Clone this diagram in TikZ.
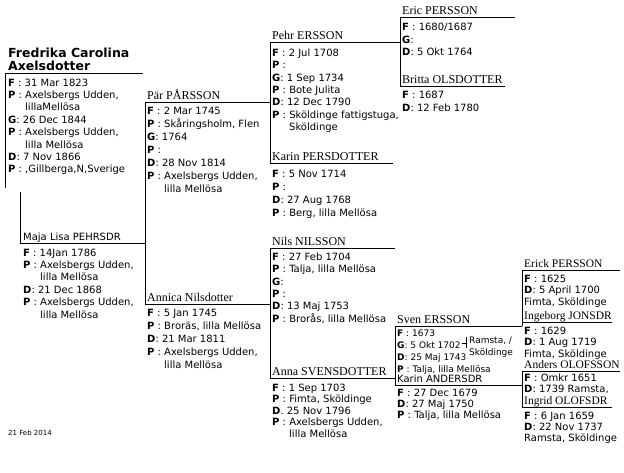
\documentclass[tikz,border=0pt]{standalone}
\usepackage{fontspec}
\setsansfont{DejaVu Sans}
\newfontfamily\namefont{Liberation Serif}
\usetikzlibrary{positioning}
\newcommand{\fld}[1]{\textbf{#1}}
\newcommand{\cont}{\hspace*{17pt}}

\begin{document}
\begin{tikzpicture}[
  x=1pt, y=-1pt,
  font=\sffamily\fontsize{10}{12.4}\selectfont,
  rule/.style={draw=black, line width=.9pt},
  who/.style={font=\namefont\fontsize{12}{14}\selectfont, anchor=base west, inner sep=0pt},
  whosmall/.style={who, font=\namefont\fontsize{11.5}{14}\selectfont},
  whosans/.style={anchor=base west, inner sep=0pt},
  info/.style={anchor=north west, inner sep=0pt, align=left, yshift=7.5pt},
  wide/.style={font=\sffamily\fontsize{10}{13}\selectfont},
  tight/.style={font=\sffamily\fontsize{10}{11.5}\selectfont},
  tighter/.style={font=\sffamily\fontsize{10}{11}\selectfont},
  small/.style={font=\sffamily\fontsize{9}{11.8}\selectfont, yshift=-.6pt}
]
  \fill[white] (0,0) rectangle (624,472);
  \useasboundingbox (0,0) rectangle (624,472);

  % where each name rule starts
  \coordinate (fredL) at (5,73);
  \coordinate (majaL) at (20,243);
  \coordinate (parL) at (145,102);
  \coordinate (annicaL) at (145,304);
  \coordinate (pehrL) at (270,42);
  \coordinate (karinpL) at (270,163);
  \coordinate (nilsL) at (270,248);
  \coordinate (annaL) at (270,378);
  \coordinate (ericL) at (400,17);
  \coordinate (brittaL) at (400,86);
  \coordinate (svenL) at (395,326);
  \coordinate (karinaL) at (395,385);
  \coordinate (erickL) at (522,270);
  \coordinate (ingebL) at (522,322);
  \coordinate (andersL) at (522,371);
  \coordinate (ingridL) at (522,407);

  % rules under the names
  \draw[rule] (fredL) -- ++(138,0);
  \draw[rule] (majaL) -- (majaL -| parL);
  \draw[rule] (parL) -- (parL -| pehrL);
  \draw[rule] (annicaL) -- (annicaL -| nilsL);
  \draw[rule] (pehrL) -- (pehrL -| ericL);
  \draw[rule] (karinpL) -- ++(123,0);
  \draw[rule] (nilsL) -- ++(125,0);
  \draw[rule] (annaL) -- (annaL -| svenL);
  \draw[rule] (ericL) -- ++(115,0);
  \draw[rule] (brittaL) -- ++(105,0);
  \draw[rule] (svenL) -- (svenL -| erickL);
  \draw[rule] (karinaL) -- (karinaL -| andersL);
  \draw[rule] (erickL) -- ++(98,0);
  \draw[rule] (ingebL) -- ++(90,0);
  \draw[rule] (andersL) -- ++(98,0);
  \draw[rule] (ingridL) -- ++(90,0);

  % couples
  \draw[rule] (fredL) -- ++(0,115);
  \draw[rule] (majaL) -- ++(0,-51);
  \draw[rule] (parL) -- (annicaL);
  \draw[rule] (pehrL) -- (karinpL);
  \draw[rule] (nilsL) -- (annaL);
  \draw[rule] (ericL) -- (brittaL);
  \draw[rule] (svenL) -- (karinaL);
  \draw[rule] (erickL) -- (svenL -| erickL);
  \draw[rule] (andersL) -- (ingridL);

  % names
  \node[anchor=south west, inner sep=0pt, align=left,
        font=\sffamily\bfseries\fontsize{12.5}{13}\selectfont] (fred) at (8,71)
        {Fredrika Carolina\\Axelsdotter};
  \node[whosans] (maja) at ([shift={(3,-3)}]majaL) {Maja Lisa PEHRSDR};
  \node[who] (par) at ([shift={(2,-3)}]parL) {Pär PÅRSSON};
  \node[who] (annica) at ([shift={(2,-3)}]annicaL) {Annica Nilsdotter};
  \node[who] (pehr) at ([shift={(2,-3)}]pehrL) {Pehr ERSSON};
  \node[who] (karinp) at ([shift={(2,-3)}]karinpL) {Karin PERSDOTTER};
  \node[who] (nils) at ([shift={(2,-3)}]nilsL) {Nils NILSSON};
  \node[who] (anna) at ([shift={(2,-3)}]annaL) {Anna SVENSDOTTER};
  \node[who] (eric) at ([shift={(2,-3)}]ericL) {Eric PERSSON};
  \node[who] (britta) at ([shift={(2,-3)}]brittaL) {Britta OLSDOTTER};
  \node[who] (sven) at ([shift={(2,-3)}]svenL) {Sven ERSSON};
  \node[whosans] (karina) at ([shift={(2,-3)}]karinaL) {Karin ANDERSDR};
  \node[whosmall] (erick) at ([shift={(2,-3)}]erickL) {Erick PERSSON};
  \node[whosmall] (ingeb) at ([shift={(2,-3)}]ingebL) {Ingeborg JONSDR};
  \node[whosmall] (anders) at ([shift={(2,-3)}]andersL) {Anders OLOFSSON};
  \node[whosmall] (ingrid) at ([shift={(2,-3)}]ingridL) {Ingrid OLOFSDR};

  % facts
  \node[info] (fredInfo) at (8,86) {\fld{F} : 31 Mar 1823\\\fld{P} : Axelsbergs Udden,\\\cont lillaMellösa\\
    \fld{G}: 26 Dec 1844\\\fld{P} : Axelsbergs Udden,\\\cont lilla Mellösa\\\fld{D}: 7 Nov 1866\\
    \fld{P} : ,Gillberga,N,Sverige};
  \node[info] (majaInfo) at (23,256) {\fld{F} : 14Jan 1786\\\fld{P} : Axelsbergs Udden,\\\cont lilla Mellösa\\
    \fld{D}: 21 Dec 1868\\\fld{P} : Axelsbergs Udden,\\\cont lilla Mellösa};
  \node[info, wide] (parInfo) at (147,114) {\fld{F} : 2 Mar 1745\\\fld{P} : Skåringsholm, Flen\\\fld{G}: 1764\\
    \fld{P} :\\\fld{D}: 28 Nov 1814\\\fld{P} : Axelsbergs Udden,\\\cont lilla Mellösa};
  \node[info, wide] (annicaInfo) at (147,317) {\fld{F} : 5 Jan 1745\\\fld{P} : Broräs, lilla Mellösa\\
    \fld{D}: 21 Mar 1811\\\fld{P} : Axelsbergs Udden,\\\cont lilla Mellösa};
  \node[info] (pehrInfo) at (272,56) {\fld{F} : 2 Jul 1708\\\fld{P} :\\\fld{G}: 1 Sep 1734\\
    \fld{P} : Bote Julita\\\fld{D}: 12 Dec 1790\\\fld{P} : Sköldinge fattigstuga,\\\cont Sköldinge};
  \node[info, wide] (karinpInfo) at (272,178) {\fld{F} : 5 Nov 1714\\\fld{P} :\\\fld{D}: 27 Aug 1768\\
    \fld{P} : Berg, lilla Mellösa};
  \node[info] (nilsInfo) at (272,260) {\fld{F} : 27 Feb 1704\\\fld{P} : Talja, lilla Mellösa\\\fld{G}:\\
    \fld{P} :\\\fld{D}: 13 Maj 1753\\\fld{P} : Brorås, lilla Mellösa};
  \node[info, tight] (annaInfo) at (272,391) {\fld{F} : 1 Sep 1703\\\fld{P} : Fimta, Sköldinge\\\fld{D}. 25 Nov 1796\\
    \fld{P} : Axelsbergs Udden,\\\cont lilla Mellösa};
  \node[info] (ericInfo) at (402,30.5) {\fld{F} : 1680/1687\\\fld{G}:\\\fld{D}: 5 Okt 1764};
  \node[info, wide] (brittaInfo) at (402,98) {\fld{F} : 1687\\\fld{D}: 12 Feb 1780};
  \node[info, small] (svenInfo) at (397,337) {\fld{F} : 1673\\\fld{G}: 5 Okt 1702\\\fld{D}: 25 Maj 1743\\
    \fld{P} : Talja, lilla Mellösa};
  \node[info, small] (svenPlace) at (469,344) {Ramsta, /\\Sköldinge};
  \draw[line width=.7pt] ([shift={(-3,0)}]svenPlace.north west) -- ++(0,11) ++(0,-5) -- ++(-4,0);
  \node[info, tighter] (karinaInfo) at (397,396) {\fld{F} : 27 Dec 1679\\\fld{D}: 27 Maj 1750\\
    \fld{P} : Talja, lilla Mellösa};
  \node[info, tight] (erickInfo) at (524,282) {\fld{F} : 1625\\\fld{D}: 5 April 1700\\Fimta, Sköldinge};
  \node[info, tight] (ingebInfo) at (524,334) {\fld{F} : 1629\\\fld{D}: 1 Aug 1719\\Fimta, Sköldinge};
  \node[info, tighter] (andersInfo) at (524,381.5) {\fld{F} : Omkr 1651\\\fld{D}: 1739 Ramsta,};
  \node[info, tighter] (ingridInfo) at (524,419) {\fld{F} : 6 Jan 1659\\\fld{D}: 22 Nov 1737\\Ramsta, Sköldinge};

  \node[anchor=base west, inner sep=0pt, font=\sffamily\fontsize{7}{8}\selectfont] (printDate) at (8,435) {21 Feb 2014};
\end{tikzpicture}
\end{document}
